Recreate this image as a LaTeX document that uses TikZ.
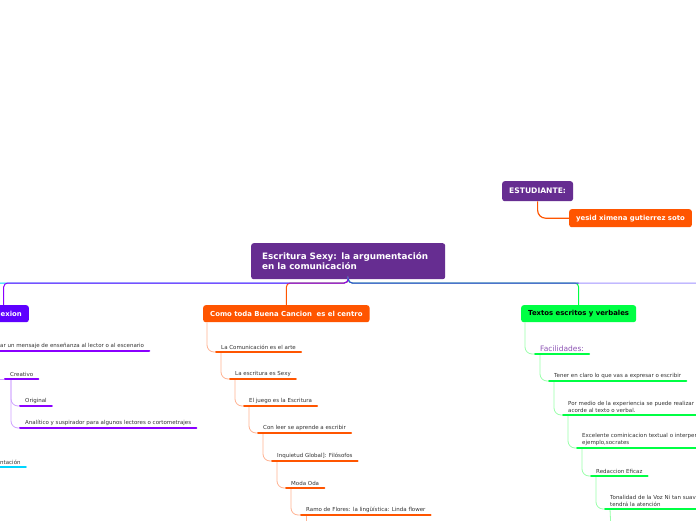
\documentclass[tikz,border=0pt]{standalone}
\usepackage{fontspec}
\setmainfont{DejaVu Sans}
\usetikzlibrary{positioning}
\definecolor{rootpurple}{HTML}{662D91}
\definecolor{brorange}{HTML}{FF5500}
\definecolor{lightorange}{HTML}{FFB393}
\definecolor{brgreen}{HTML}{00FF44}
\definecolor{lightgreen}{HTML}{99FFAA}
\definecolor{brviolet}{HTML}{5E00FF}
\definecolor{brpurple}{HTML}{8A00FF}
\definecolor{lightpurple}{HTML}{CFA3FF}
\definecolor{brcyan}{HTML}{00D5FF}
\definecolor{brblue}{HTML}{2D4FC9}
\definecolor{lavender}{HTML}{A192FF}
\definecolor{itemgray}{HTML}{333333}
\definecolor{facpurple}{HTML}{8E55B5}

\begin{document}
\begin{tikzpicture}[
  x=1pt, y=-1pt,
  box/.style={rounded corners=2.5pt, text=white, anchor=north west,
              font=\bfseries\fontsize{6.9}{8}\selectfont,
              minimum height=17pt, inner xsep=7pt},
  item/.style={anchor=south west, inner xsep=5pt, inner ysep=2.5pt,
               font=\fontsize{5.5}{7}\selectfont, text=itemgray, align=left},
  bus/.style={line width=1pt, rounded corners=4pt},
  uline/.style={line width=2pt, line cap=round},
  link/.style={line width=0.8pt, rounded corners=7pt}
]
\useasboundingbox (0,0) rectangle (696,520);
\fill[white] (0,0) rectangle (696,520);
\clip (0,0) rectangle (696,520);

% main topic and the student box
\node[box, fill=rootpurple, font=\bfseries\fontsize{8.8}{10.5}\selectfont,
      text width=172pt, align=left, minimum height=36pt, inner xsep=11pt]
      (root) at (251,243) {Escritura Sexy: la argumentación\\en la comunicación};
\node[box, fill=rootpurple, font=\bfseries\fontsize{7.6}{9}\selectfont,
      minimum height=20pt] (est) at (502,181) {ESTUDIANTE:};
\node[box, fill=brorange, minimum height=18pt] (yesid) at (569,209) {yesid ximena gutierrez soto};

% first level
\node[box, fill=brorange] (como) at (203,305) {Como toda Buena Cancion\ \ es el centro};
\node[box, fill=brgreen, text=black] (textos) at (521,305) {Textos escritos y verbales};
\node[box, fill=brviolet, anchor=north east] (reflex) at (29,305) {Reflexion};

\coordinate (bus) at (0,283);
\coordinate (cyanend) at (-20,283);
\coordinate (rightend) at (720,283);

\draw[bus, brcyan] (root.south) |- (cyanend);
\draw[bus, brorange] (root.south) -- (root.south |- bus) -| (como.north);
\draw[bus, brgreen] (root.south) -- (root.south |- bus) -| (textos.north);
\draw[bus, lavender] (root.south) |- (rightend);
\draw[bus, brpurple] (root.south) -- (root.south |- bus) -| (reflex.north);
\draw[bus, brblue] (root.south) -- (root.south |- bus) -- (textos.north |- bus);
\draw[brorange, line width=1.2pt, rounded corners=8pt] (est.south) |- (yesid.west);

% Como toda Buena Cancion
\node[item] (o1) at (216,352) {La Comunicación es el arte};
\node[item] (o2) at (230,379) {La escritura es Sexy};
\node[item] (o3) at (244,406) {El juego es la Escritura};
\node[item] (o4) at (258,433) {Con leer se aprende a escribir};
\node[item] (o5) at (272,461) {Inquietud Global]: Filósofos};
\node[item] (o6) at (286,488) {Moda Oda};
\node[item] (o7) at (301,515) {Ramo de Flores: la lingüística: Linda flower};
\coordinate (o8) at (306,530);

\draw[link, lightorange] ([xshift=4pt]como.south west) |- (o1.south west);
\draw[link, lightorange] ([xshift=5pt]o1.south west) |- (o2.south west);
\draw[link, lightorange] ([xshift=5pt]o2.south west) |- (o3.south west);
\draw[link, lightorange] ([xshift=5pt]o3.south west) |- (o4.south west);
\draw[link, lightorange] ([xshift=5pt]o4.south west) |- (o5.south west);
\draw[link, lightorange] ([xshift=5pt]o5.south west) |- (o6.south west);
\draw[link, lightorange] ([xshift=5pt]o6.south west) |- (o7.south west);
\draw[link, lightorange] ([xshift=5pt]o7.south west) -- (o8);
\draw[uline, brorange] (o1.south west) -- (o1.south east);
\draw[uline, brorange] (o2.south west) -- (o2.south east);
\draw[uline, brorange] (o3.south west) -- (o3.south east);
\draw[uline, brorange] (o4.south west) -- (o4.south east);
\draw[uline, brorange] (o5.south west) -- (o5.south east);
\draw[uline, brorange] (o6.south west) -- (o6.south east);
\draw[uline, brorange] (o7.south west) -- (o7.south east);

% Textos escritos y verbales
\node[item, font=\fontsize{7.5}{8}\selectfont, text=facpurple] (g1) at (535,354) {Facilidades:};
\node[item] (g2) at (549,381) {Tener en claro lo que vas a expresar o escribir};
\node[item] (g3) at (563,415) {Por medio de la experiencia se puede realizar\\acorde al texto o verbal.};
\node[item] (g4) at (577,448) {Excelente cominicacion textual o interper\\ejemplo,socrates};
\node[item] (g5) at (591,476) {Redaccion Eficaz};
\node[item] (g6) at (605,509) {Tonalidad de la Voz Ni tan suave\\tendrá la atención};
\coordinate (g7) at (611,530);

\draw[link, lightgreen] ([xshift=4pt]textos.south west) |- (g1.south west);
\draw[link, lightgreen] ([xshift=5pt]g1.south west) |- (g2.south west);
\draw[link, lightgreen] ([xshift=5pt]g2.south west) |- (g3.south west);
\draw[link, lightgreen] ([xshift=5pt]g3.south west) |- (g4.south west);
\draw[link, lightgreen] ([xshift=5pt]g4.south west) |- (g5.south west);
\draw[link, lightgreen] ([xshift=5pt]g5.south west) |- (g6.south west);
\draw[link, lightgreen] ([xshift=5pt]g6.south west) -- (g7);
\draw[uline, brgreen] (g1.south west) -- (g1.south east);
\draw[uline, brgreen] (g2.south west) -- (g2.south east);
\draw[uline, brgreen] (g3.south west) -- (g3.south east);
\draw[uline, brgreen] (g4.south west) -- (g4.south east);
\draw[uline, brgreen] (g5.south west) -- (g5.south east);
\draw[uline, brgreen] (g6.south west) -- (g6.south east);

% Reflexion and the cut-off left side
\node[item] (p1) at (-5,351) {ar un mensaje de enseñanza al lector o al escenario};
\node[item] (p2) at (5,379) {Creativo};
\node[item] (p3) at (20,406) {Original};
\node[item] (p4) at (20,428) {Analítico y suspirador para algunos lectores o cortometrajes};
\node[item] (c1) at (-5,467) {ntación};
\coordinate (p0) at (-8,379);

\draw[link, lightpurple] (p0) -- (p2.south west);
\draw[link, lightpurple] ([xshift=6pt]p2.south west) |- (p3.south west);
\draw[link, lightpurple] ([xshift=6pt]p2.south west) |- (p4.south west);
\draw[uline, brpurple] (p1.south west) -- (p1.south east);
\draw[uline, brpurple] (p2.south west) -- (p2.south east);
\draw[uline, brpurple] (p3.south west) -- (p3.south east);
\draw[uline, brpurple] (p4.south west) -- (p4.south east);
\draw[uline, brcyan] (c1.south west) -- (c1.south east);
\end{tikzpicture}
\end{document}
